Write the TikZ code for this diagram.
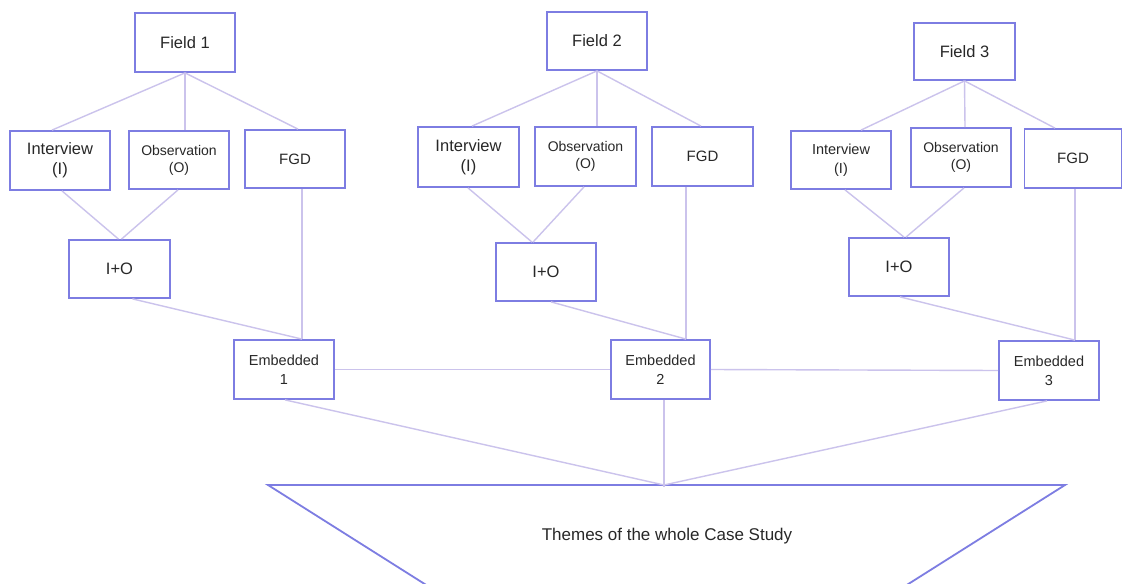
\documentclass[tikz,border=0pt]{standalone}
\usepackage{fontspec}
\setmainfont{Liberation Sans}
\setsansfont{Liberation Sans}
\usetikzlibrary{calc}

\definecolor{boxline}{HTML}{7D7DE2}
\definecolor{linkline}{HTML}{CBC3EC}
\definecolor{txt}{HTML}{282828}

\tikzset{
  box/.style={draw=boxline, line width=1.8pt, fill=white, rectangle,
    minimum width=100pt, minimum height=58pt, inner sep=2pt,
    align=center, text=txt, font=\fontsize{16.5}{20}\selectfont},
  obsbox/.style={box, font=\fontsize{14}{17}\selectfont},
  fgdbox/.style={box, font=\fontsize{15}{18}\selectfont},
  embbox/.style={box, font=\fontsize{14.5}{19}\selectfont},
  link/.style={draw=linkline, line width=1.4pt},
}

\begin{document}
\begin{tikzpicture}[x=1pt, y=-1pt]
  \clip (0,0) rectangle (1123,583);
  \fill[white] (0,0) rectangle (1123,583);

  % ---- Field 1 branch ----
  \node[box, minimum height=59pt] (f1) at (185,42.5) {Field 1};
  \node[box, minimum height=59pt] (i1) at (60,160.5) {Interview\\(I)};
  \node[obsbox] (o1) at (179,160) {Observation\\(O)};
  \node[fgdbox] (g1) at (295,159) {FGD};
  \node[box, minimum width=101pt] (io1) at (119.5,269) {I+O};

  % ---- Field 2 branch ----
  \node[box] (f2) at (597,41) {Field 2};
  \node[box, minimum width=101pt, minimum height=60pt] (i2) at (468.5,157) {Interview\\(I)};
  \node[obsbox, minimum width=101pt, minimum height=59pt] (o2) at (585.5,156.5) {Observation\\(O)};
  \node[fgdbox, minimum width=101pt, minimum height=59pt] (g2) at (702.5,156.5) {FGD};
  \node[box] (io2) at (546,272) {I+O};

  % ---- Field 3 branch ----
  \node[box, minimum width=101pt, minimum height=57pt] (f3) at (964.5,51.5) {Field 3};
  \node[box, font=\fontsize{14.5}{19}\selectfont] (i3) at (841,160) {Interview\\(I)};
  \node[obsbox, minimum height=59pt] (o3) at (961,157.5) {Observation\\(O)};
  \node[fgdbox, minimum width=97pt, minimum height=59pt] (g3) at (1073,158.5) {FGD};
  \node[box] (io3) at (899,267) {I+O};

  % ---- Embedded cases ----
  \node[embbox, minimum height=59pt] (e1) at (284,369.5) {Embedded\\1};
  \node[embbox, minimum width=99pt, minimum height=59pt] (e2) at (660.5,369.5) {Embedded\\2};
  \node[embbox, minimum height=59pt] (e3) at (1049,370.5) {Embedded\\3};

  % ---- Themes funnel ----
  \coordinate (apex) at (664,485);
  \draw[boxline, line width=1.8pt, line join=miter]
    (450,600) -- (268,485) -- (1065,485) -- (883,600);
  \node[text=txt, font=\fontsize{17}{20}\selectfont] (themes) at (667,536)
    {Themes of the whole Case Study};

  % ---- connectors, Field 1 ----
  \path[link] (f1.south) -- ([xshift=-8pt]i1.north);
  \path[link] (f1.south) -- ([xshift=6pt]o1.north);
  \path[link] (f1.south) -- ([xshift=3pt]g1.north);
  \path[link] ([xshift=2pt]i1.south) -- ([xshift=-1pt]io1.north);
  \path[link] ([xshift=-1pt]o1.south) -- ([xshift=2pt]io1.north);
  \path[link] ([xshift=7pt]g1.south) -- ([xshift=7pt]g1.south |- e1.north);
  \path[link] ([xshift=13pt]io1.south) -- ([xshift=7pt]g1.south |- e1.north);

  % ---- connectors, Field 2 ----
  \path[link] (f2.south) -- ([xshift=3.5pt]i2.north);
  \path[link] (f2.south) -- ([xshift=11.5pt]o2.north);
  \path[link] (f2.south) -- ([xshift=-1.5pt]g2.north);
  \path[link] ([xshift=-0.5pt]i2.south) -- ([xshift=-14pt]io2.north);
  \path[link] ([xshift=-1.5pt]o2.south) -- ([xshift=-13pt]io2.north);
  \path[link] ([xshift=-16.5pt]g2.south) -- ([xshift=-16.5pt]g2.south |- e2.north);
  \path[link] ([xshift=5pt]io2.south) -- ([xshift=-16.5pt]g2.south |- e2.north);

  % ---- connectors, Field 3 ----
  \path[link] (f3.south) -- ([xshift=20pt]i3.north);
  \path[link] (f3.south) -- ([xshift=4pt]o3.north);
  \path[link] (f3.south) -- ([xshift=-18pt]g3.north);
  \path[link] ([xshift=4pt]i3.south) -- ([xshift=5pt]io3.north);
  \path[link] ([xshift=3pt]o3.south) -- ([xshift=7pt]io3.north);
  \path[link] ([xshift=2pt]g3.south) -- ([xshift=2pt]g3.south |- e3.north);
  \path[link] ([xshift=1pt]io3.south) -- ([xshift=2pt]g3.south |- e3.north);

  % ---- embedded links and funnel inputs ----
  \path[link] (e1.east) -- (e2.west);
  \path[link] (e2.east) -- (e3.west);
  \path[link] ([xshift=1pt]e1.south) -- (apex);
  \path[link] ([xshift=3.5pt]e2.south) -- ([yshift=-2pt]apex);
  \path[link] ([xshift=-2pt]e3.south) -- (apex);
\end{tikzpicture}
\end{document}
